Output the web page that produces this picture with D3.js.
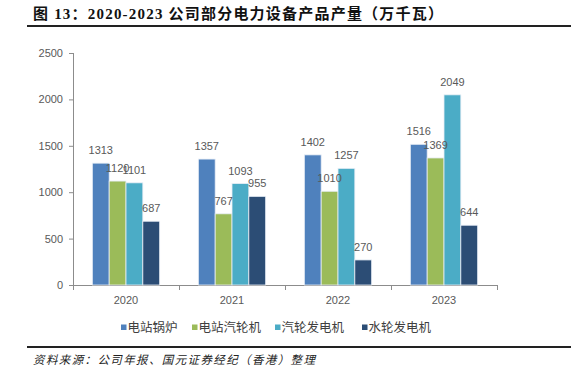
<!DOCTYPE html>
<html>
<head>
<meta charset="utf-8">
<script src="https://cdn.jsdelivr.net/npm/d3@7"></script>
<style>
  body { margin: 0; background: #fff; }
  svg { display: block; }
  .axis path, .axis line { stroke: #8c8c8c; }
  .axis text { fill: #595959; font: 11px "Liberation Sans", "Noto Sans CJK SC", sans-serif; }
</style>
</head>
<body>
<svg width="571" height="373"></svg>
<script>
var years = ["2020", "2021", "2022", "2023"];
var seriesNames = ["电站锅炉", "电站汽轮机", "汽轮发电机", "水轮发电机"];
var boiler = [1313, 1357, 1402, 1516];
var turbine = [1120, 767, 1010, 1369];
var generator = [1101, 1093, 1257, 2049];
var hydro = [687, 955, 270, 644];
var yTicks = [0, 500, 1000, 1500, 2000, 2500];

var colors = ["#4f81bd", "#9bbb59", "#4bacc6", "#2c4d75"];

var svg = d3.select("svg"),
    margin = {top: 53, right: 74, bottom: 88, left: 73},
    width = 571 - margin.left - margin.right,
    height = 373 - margin.top - margin.bottom,
    g = svg.append("g").attr("transform", "translate(" + margin.left + "," + margin.top + ")");

// title + rules
svg.append("text")
    .attr("x", 33)
    .attr("y", 19)
    .attr("font-family", "'Liberation Serif', 'Noto Sans CJK SC', serif")
    .attr("font-weight", "bold")
    .attr("font-size", 15)
    .attr("fill", "#111")
    .attr("textLength", 410)
    .attr("lengthAdjust", "spacing")
    .text("图 13：2020-2023 公司部分电力设备产品产量（万千瓦）");

svg.append("line")
    .attr("x1", 27).attr("x2", 571)
    .attr("y1", 26).attr("y2", 26)
    .attr("stroke", "#222").attr("stroke-width", 2);

svg.append("line")
    .attr("x1", 27).attr("x2", 571)
    .attr("y1", 347).attr("y2", 347)
    .attr("stroke", "#222").attr("stroke-width", 2);

svg.append("text")
    .attr("x", 33)
    .attr("y", 364)
    .attr("font-family", "'Noto Sans CJK SC', sans-serif")
    .attr("font-style", "italic")
    .attr("font-size", 11.5)
    .attr("fill", "#222")
    .attr("textLength", 282)
    .attr("lengthAdjust", "spacing")
    .text("资料来源：公司年报、国元证券经纪（香港）整理");

var data = years.map(function(y, i) {
  return {year: y, values: [boiler[i], turbine[i], generator[i], hydro[i]]};
});

var x0 = d3.scaleBand().domain(years).range([0, width]).paddingInner(0).paddingOuter(0);
var x1 = d3.scaleBand().domain(d3.range(4)).range([0, x0.bandwidth() * 0.635]);
var y = d3.scaleLinear().domain([0, 2500]).range([height, 0]);

// y axis
var yAxis = g.append("g")
    .attr("class", "axis")
    .call(d3.axisLeft(y).tickValues(yTicks).tickFormat(d3.format("d")).tickSize(4).tickPadding(6));

// x axis with ticks at band boundaries
var xAxis = g.append("g")
    .attr("class", "axis")
    .attr("transform", "translate(0," + height + ")");
xAxis.append("line").attr("x1", 0).attr("x2", width).attr("y1", 0.5).attr("y2", 0.5);
xAxis.selectAll(".tk")
  .data(d3.range(years.length + 1))
  .enter().append("line")
    .attr("x1", function(i) { return Math.round(i * x0.step()) + 0.5; })
    .attr("x2", function(i) { return Math.round(i * x0.step()) + 0.5; })
    .attr("y1", 0).attr("y2", 5);
xAxis.selectAll(".lab")
  .data(years)
  .enter().append("text")
    .attr("x", function(d) { return x0(d) + x0.bandwidth() / 2; })
    .attr("y", 19)
    .attr("text-anchor", "middle")
    .attr("font-size", 10)
    .text(function(d) { return d; });
yAxis.select(".domain").remove();
yAxis.append("line").attr("x1", 0.5).attr("x2", 0.5).attr("y1", 0).attr("y2", height).attr("stroke", "#8c8c8c");

var off = (x0.bandwidth() - x1.range()[1]) / 2;

var grp = g.selectAll(".grp")
  .data(data)
  .enter().append("g")
    .attr("transform", function(d) { return "translate(" + (x0(d.year) + off) + ",0)"; });

grp.selectAll("rect")
  .data(function(d) { return d.values; })
  .enter().append("rect")
    .attr("x", function(d, i) { return x1(i); })
    .attr("y", function(d) { return y(d); })
    .attr("width", x1.bandwidth())
    .attr("height", function(d) { return height - y(d); })
    .attr("fill", function(d, i) { return colors[i]; })
    .attr("stroke", "#e8eef6")
    .attr("stroke-width", 0.8);

grp.selectAll(".val")
  .data(function(d) { return d.values; })
  .enter().append("text")
    .attr("x", function(d, i) { return x1(i) + x1.bandwidth() / 2; })
    .attr("y", function(d) { return y(d) - 9; })
    .attr("text-anchor", "middle")
    .attr("font-family", "'Liberation Sans', sans-serif")
    .attr("font-size", 11)
    .attr("fill", "#595959")
    .text(function(d) { return d; });

// legend
var legendX = [121, 192, 275, 362];
var legend = svg.append("g")
  .selectAll("g")
  .data(seriesNames)
  .enter().append("g")
    .attr("transform", function(d, i) { return "translate(" + legendX[i] + ",327.5)"; });

legend.append("rect")
    .attr("x", 0).attr("y", -3)
    .attr("width", 5.5).attr("height", 5.5)
    .attr("fill", function(d, i) { return colors[i]; });

legend.append("text")
    .attr("x", 6.5)
    .attr("y", 0)
    .attr("dy", "0.35em")
    .attr("font-family", "'Noto Sans CJK SC', sans-serif")
    .attr("font-size", 12.5)
    .attr("fill", "#404040")
    .text(function(d) { return d; });
</script>
</body>
</html>
